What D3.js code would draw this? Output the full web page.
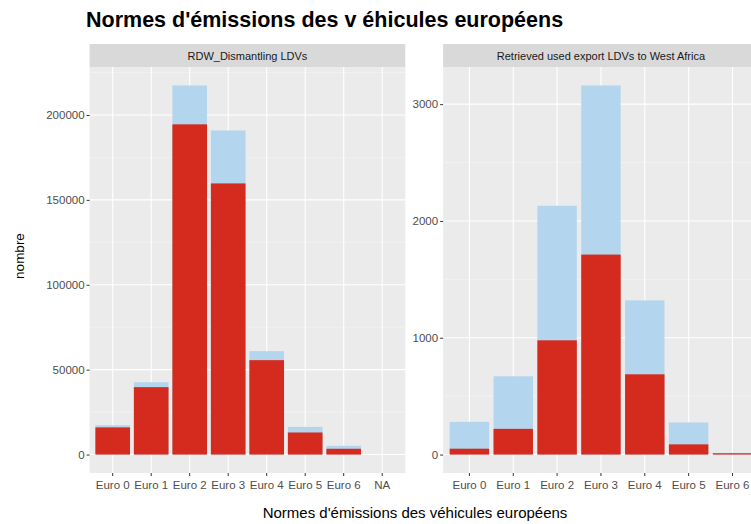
<!DOCTYPE html>
<html>
<head>
<meta charset="utf-8">
<script src="https://cdn.jsdelivr.net/npm/d3@7"></script>
<style>
  body { margin: 0; background: #fff; }
  text { font-family: "Liberation Sans", Arial, sans-serif; }
</style>
</head>
<body>
<div id="chart"></div>
<script>
// data
var categoriesRdw = ["Euro 0", "Euro 1", "Euro 2", "Euro 3", "Euro 4", "Euro 5", "Euro 6", "NA"];
var rdwTotal = [17300, 42600, 217400, 190900, 60900, 16300, 5200, 0];
var rdwRed   = [16000, 39700, 194500, 159700, 55600, 13000, 3400, 0];
var rdwTicks = [0, 50000, 100000, 150000, 200000];

var categoriesExport = ["Euro 0", "Euro 1", "Euro 2", "Euro 3", "Euro 4", "Euro 5", "Euro 6"];
var exportTotal = [280, 670, 2130, 3160, 1320, 275, 14];
var exportRed   = [50, 220, 978, 1712, 687, 87, 11];
var exportTicks = [0, 1000, 2000, 3000];

var W = 751, H = 524;
var svg = d3.select("#chart").append("svg")
  .attr("width", W)
  .attr("height", H);

var panelTop = 67, panelBottom = 473, stripTop = 44;
var panelWidth = 315.7;

function drawPanel(x0, title, cats, total, red, ticks) {
  var g = svg.append("g");

  var x = d3.scaleBand()
    .domain(cats)
    .range([x0, x0 + panelWidth])
    .paddingInner(0.1)
    .paddingOuter(0.15);

  var maxV = d3.max(total);
  var y = d3.scaleLinear()
    .domain([-0.05 * maxV, 1.05 * maxV])
    .range([panelBottom, panelTop]);

  // panel background
  g.append("rect")
    .attr("x", x0).attr("y", panelTop)
    .attr("width", panelWidth).attr("height", panelBottom - panelTop)
    .attr("fill", "#ebebeb");

  // minor grid
  var step = ticks[1] - ticks[0];
  var minor = ticks.map(function(t){ return t + step / 2; })
    .filter(function(t){ return y(t) > panelTop; });
  g.selectAll(".minor").data(minor).enter().append("line")
    .attr("x1", x0).attr("x2", x0 + panelWidth)
    .attr("y1", function(d){ return y(d); })
    .attr("y2", function(d){ return y(d); })
    .attr("stroke", "#f5f5f5").attr("stroke-width", 0.6);

  // major grid
  g.selectAll(".hmajor").data(ticks).enter().append("line")
    .attr("x1", x0).attr("x2", x0 + panelWidth)
    .attr("y1", function(d){ return y(d); })
    .attr("y2", function(d){ return y(d); })
    .attr("stroke", "#fff").attr("stroke-width", 1.1);
  g.selectAll(".vmajor").data(cats).enter().append("line")
    .attr("x1", function(d){ return x(d) + x.bandwidth() / 2; })
    .attr("x2", function(d){ return x(d) + x.bandwidth() / 2; })
    .attr("y1", panelTop).attr("y2", panelBottom)
    .attr("stroke", "#fff").attr("stroke-width", 1.1);

  // bars: total in light blue, red part on top of it
  g.selectAll(".total").data(total).enter().append("rect")
    .attr("x", function(d, i){ return x(cats[i]); })
    .attr("y", function(d){ return y(d); })
    .attr("width", x.bandwidth())
    .attr("height", function(d){ return y(0) - y(d); })
    .attr("fill", "#b3d6ee");
  g.selectAll(".red").data(red).enter().append("rect")
    .attr("x", function(d, i){ return x(cats[i]); })
    .attr("y", function(d){ return y(d); })
    .attr("width", x.bandwidth())
    .attr("height", function(d){ return y(0) - y(d); })
    .attr("fill", "#d52b1e");

  // strip
  g.append("rect")
    .attr("x", x0).attr("y", stripTop)
    .attr("width", panelWidth).attr("height", panelTop - stripTop)
    .attr("fill", "#d9d9d9");
  g.append("text")
    .attr("x", x0 + panelWidth / 2).attr("y", (stripTop + panelTop) / 2 + 4)
    .attr("text-anchor", "middle")
    .style("font-size", "11px")
    .attr("fill", "#1a1a1a")
    .text(title);

  // axes
  var yAxis = d3.axisLeft(y).tickValues(ticks).tickFormat(d3.format("d")).tickSize(3).tickPadding(2);
  var ya = g.append("g").attr("transform", "translate(" + x0 + ",0)").call(yAxis);
  var xAxis = d3.axisBottom(x).tickSize(3).tickPadding(5);
  var xa = g.append("g").attr("transform", "translate(0," + panelBottom + ")").call(xAxis);
  [ya, xa].forEach(function(a){
    a.select(".domain").remove();
    a.selectAll(".tick line").attr("stroke", "#333");
    a.selectAll(".tick text")
      .attr("fill", "#4d4d4d")
      .style("font-size", "11.5px")
      .style("font-family", "Liberation Sans, Arial, sans-serif");
  });
}

drawPanel(89.6, "RDW_Dismantling LDVs", categoriesRdw, rdwTotal, rdwRed, rdwTicks);
drawPanel(443.1, "Retrieved used export LDVs to West Africa", categoriesExport, exportTotal, exportRed, exportTicks);

// titles
svg.append("text")
  .attr("x", 86).attr("y", 27)
  .style("font-size", "21.5px")
  .style("font-weight", "bold")
  .attr("fill", "#000")
  .text("Normes d'émissions des v éhicules européens");

svg.append("text")
  .attr("x", 415).attr("y", 518)
  .attr("text-anchor", "middle")
  .style("font-size", "15px")
  .attr("fill", "#000")
  .text("Normes d'émissions des véhicules européens");

svg.append("text")
  .attr("transform", "translate(24,256) rotate(-90)")
  .attr("text-anchor", "middle")
  .style("font-size", "13.5px")
  .attr("fill", "#000")
  .text("nombre");
</script>
</body>
</html>
